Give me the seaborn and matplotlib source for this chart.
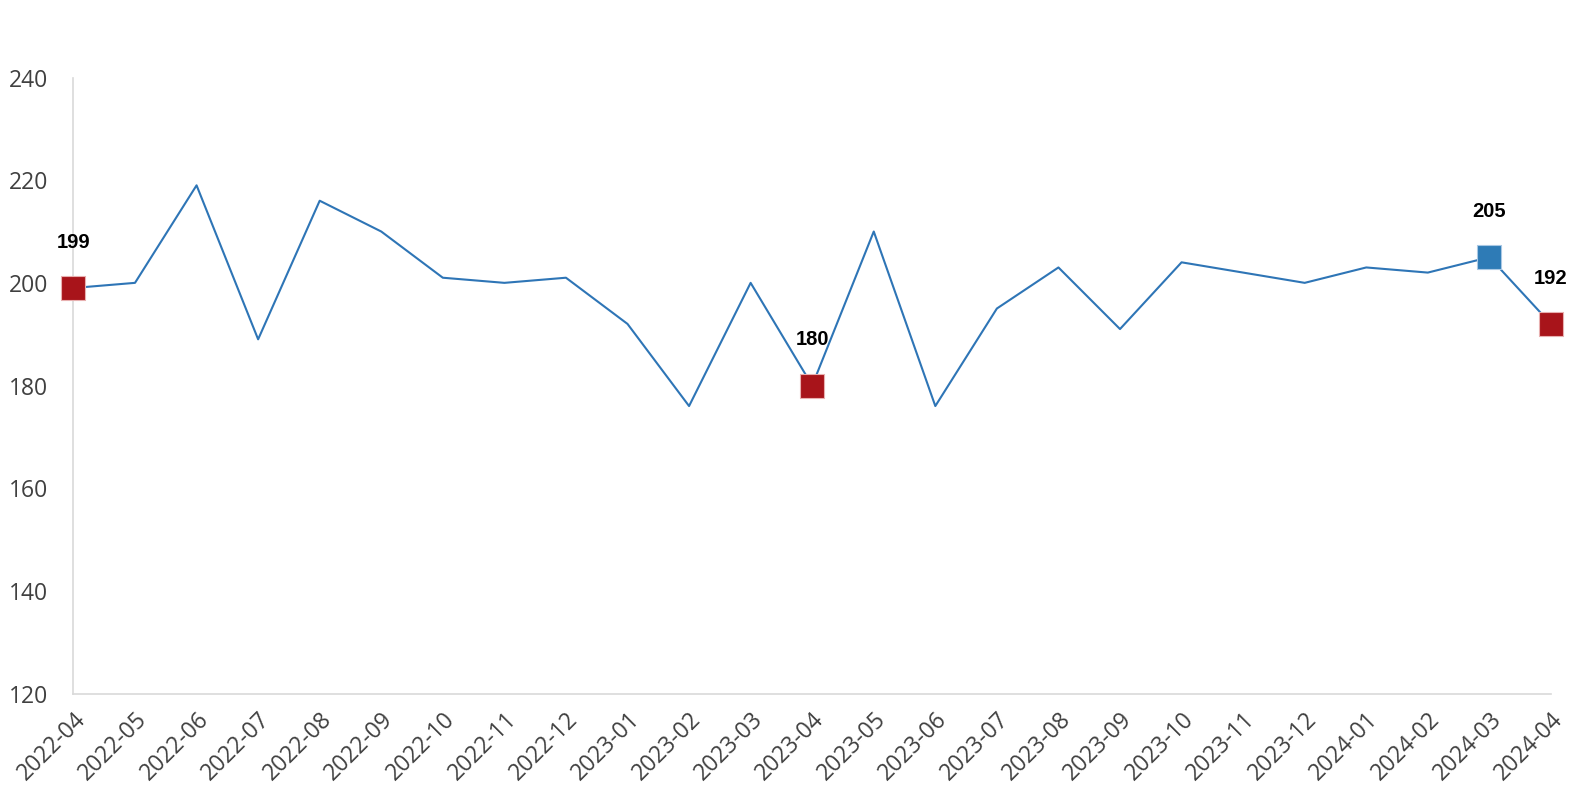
"""
Série mensal com destaque para pontos selecionados.
"""

import matplotlib
matplotlib.use('Agg')
import matplotlib.pyplot as plt
import seaborn as sns
import pandas as pd

# Dados
meses = [
    '2022-04', '2022-05', '2022-06', '2022-07', '2022-08', '2022-09',
    '2022-10', '2022-11', '2022-12', '2023-01', '2023-02', '2023-03',
    '2023-04', '2023-05', '2023-06', '2023-07', '2023-08', '2023-09',
    '2023-10', '2023-11', '2023-12', '2024-01', '2024-02', '2024-03',
    '2024-04',
]
valores = [
    199, 200, 219, 189, 216, 210,
    201, 200, 201, 192, 176, 200,
    180, 210, 176, 195, 203, 191,
    204, 202, 200, 203, 202, 205,
    192,
]
destaques_vermelhos = ['2022-04', '2023-04', '2024-04']
destaques_azuis = ['2024-03']
yticks = [120, 140, 160, 180, 200, 220, 240]

COR_LINHA = '#2E75B6'
COR_VERMELHO = '#A8141A'
COR_AZUL = '#2E7BB6'


def main():
    df = pd.DataFrame({'mes': meses, 'valor': valores})
    df['x'] = range(len(df))

    sns.set_style('white')
    plt.rcParams['font.family'] = ['Open Sans', 'DejaVu Sans']

    fig = plt.figure(figsize=(15.76, 8), dpi=100)
    ax = fig.add_axes([0.0466, 0.1331, 0.9375, 0.770])

    sns.lineplot(data=df, x='x', y='valor', color=COR_LINHA, linewidth=1.5, ax=ax)

    # Marcadores de destaque
    for lista, cor in [(destaques_vermelhos, COR_VERMELHO), (destaques_azuis, COR_AZUL)]:
        sub = df[df['mes'].isin(lista)]
        ax.scatter(sub['x'], sub['valor'], marker='s', s=300, color=cor,
                   edgecolors='#E8B0B0' if cor == COR_VERMELHO else '#A9C8E4',
                   linewidths=0.8, zorder=3, clip_on=False)
        for _, linha in sub.iterrows():
            ax.annotate(str(linha['valor']), (linha['x'], linha['valor']),
                        xytext=(0, 33), textcoords='offset points',
                        ha='center', va='center', fontsize=14.5,
                        fontweight='bold', family='Liberation Sans', color='black')

    ax.set_xlim(0, len(df) - 1)
    ax.set_ylim(120, 240)
    ax.set_yticks(yticks)
    ax.set_xticks(df['x'])
    ax.set_xticklabels(meses, rotation=45, ha='right', rotation_mode='anchor')
    ax.tick_params(axis='both', length=0, labelsize=16.5, colors='#404040')
    ax.tick_params(axis='y', pad=18)
    ax.tick_params(axis='x', pad=10)
    ax.set_xlabel('')
    ax.set_ylabel('')

    for lado in ['top', 'right']:
        ax.spines[lado].set_visible(False)
    for lado in ['left', 'bottom']:
        ax.spines[lado].set_color('#D9D9D9')
        ax.spines[lado].set_linewidth(1.2)

    fig.savefig('out.png', dpi=100)
    plt.close(fig)


if __name__ == '__main__':
    main()
